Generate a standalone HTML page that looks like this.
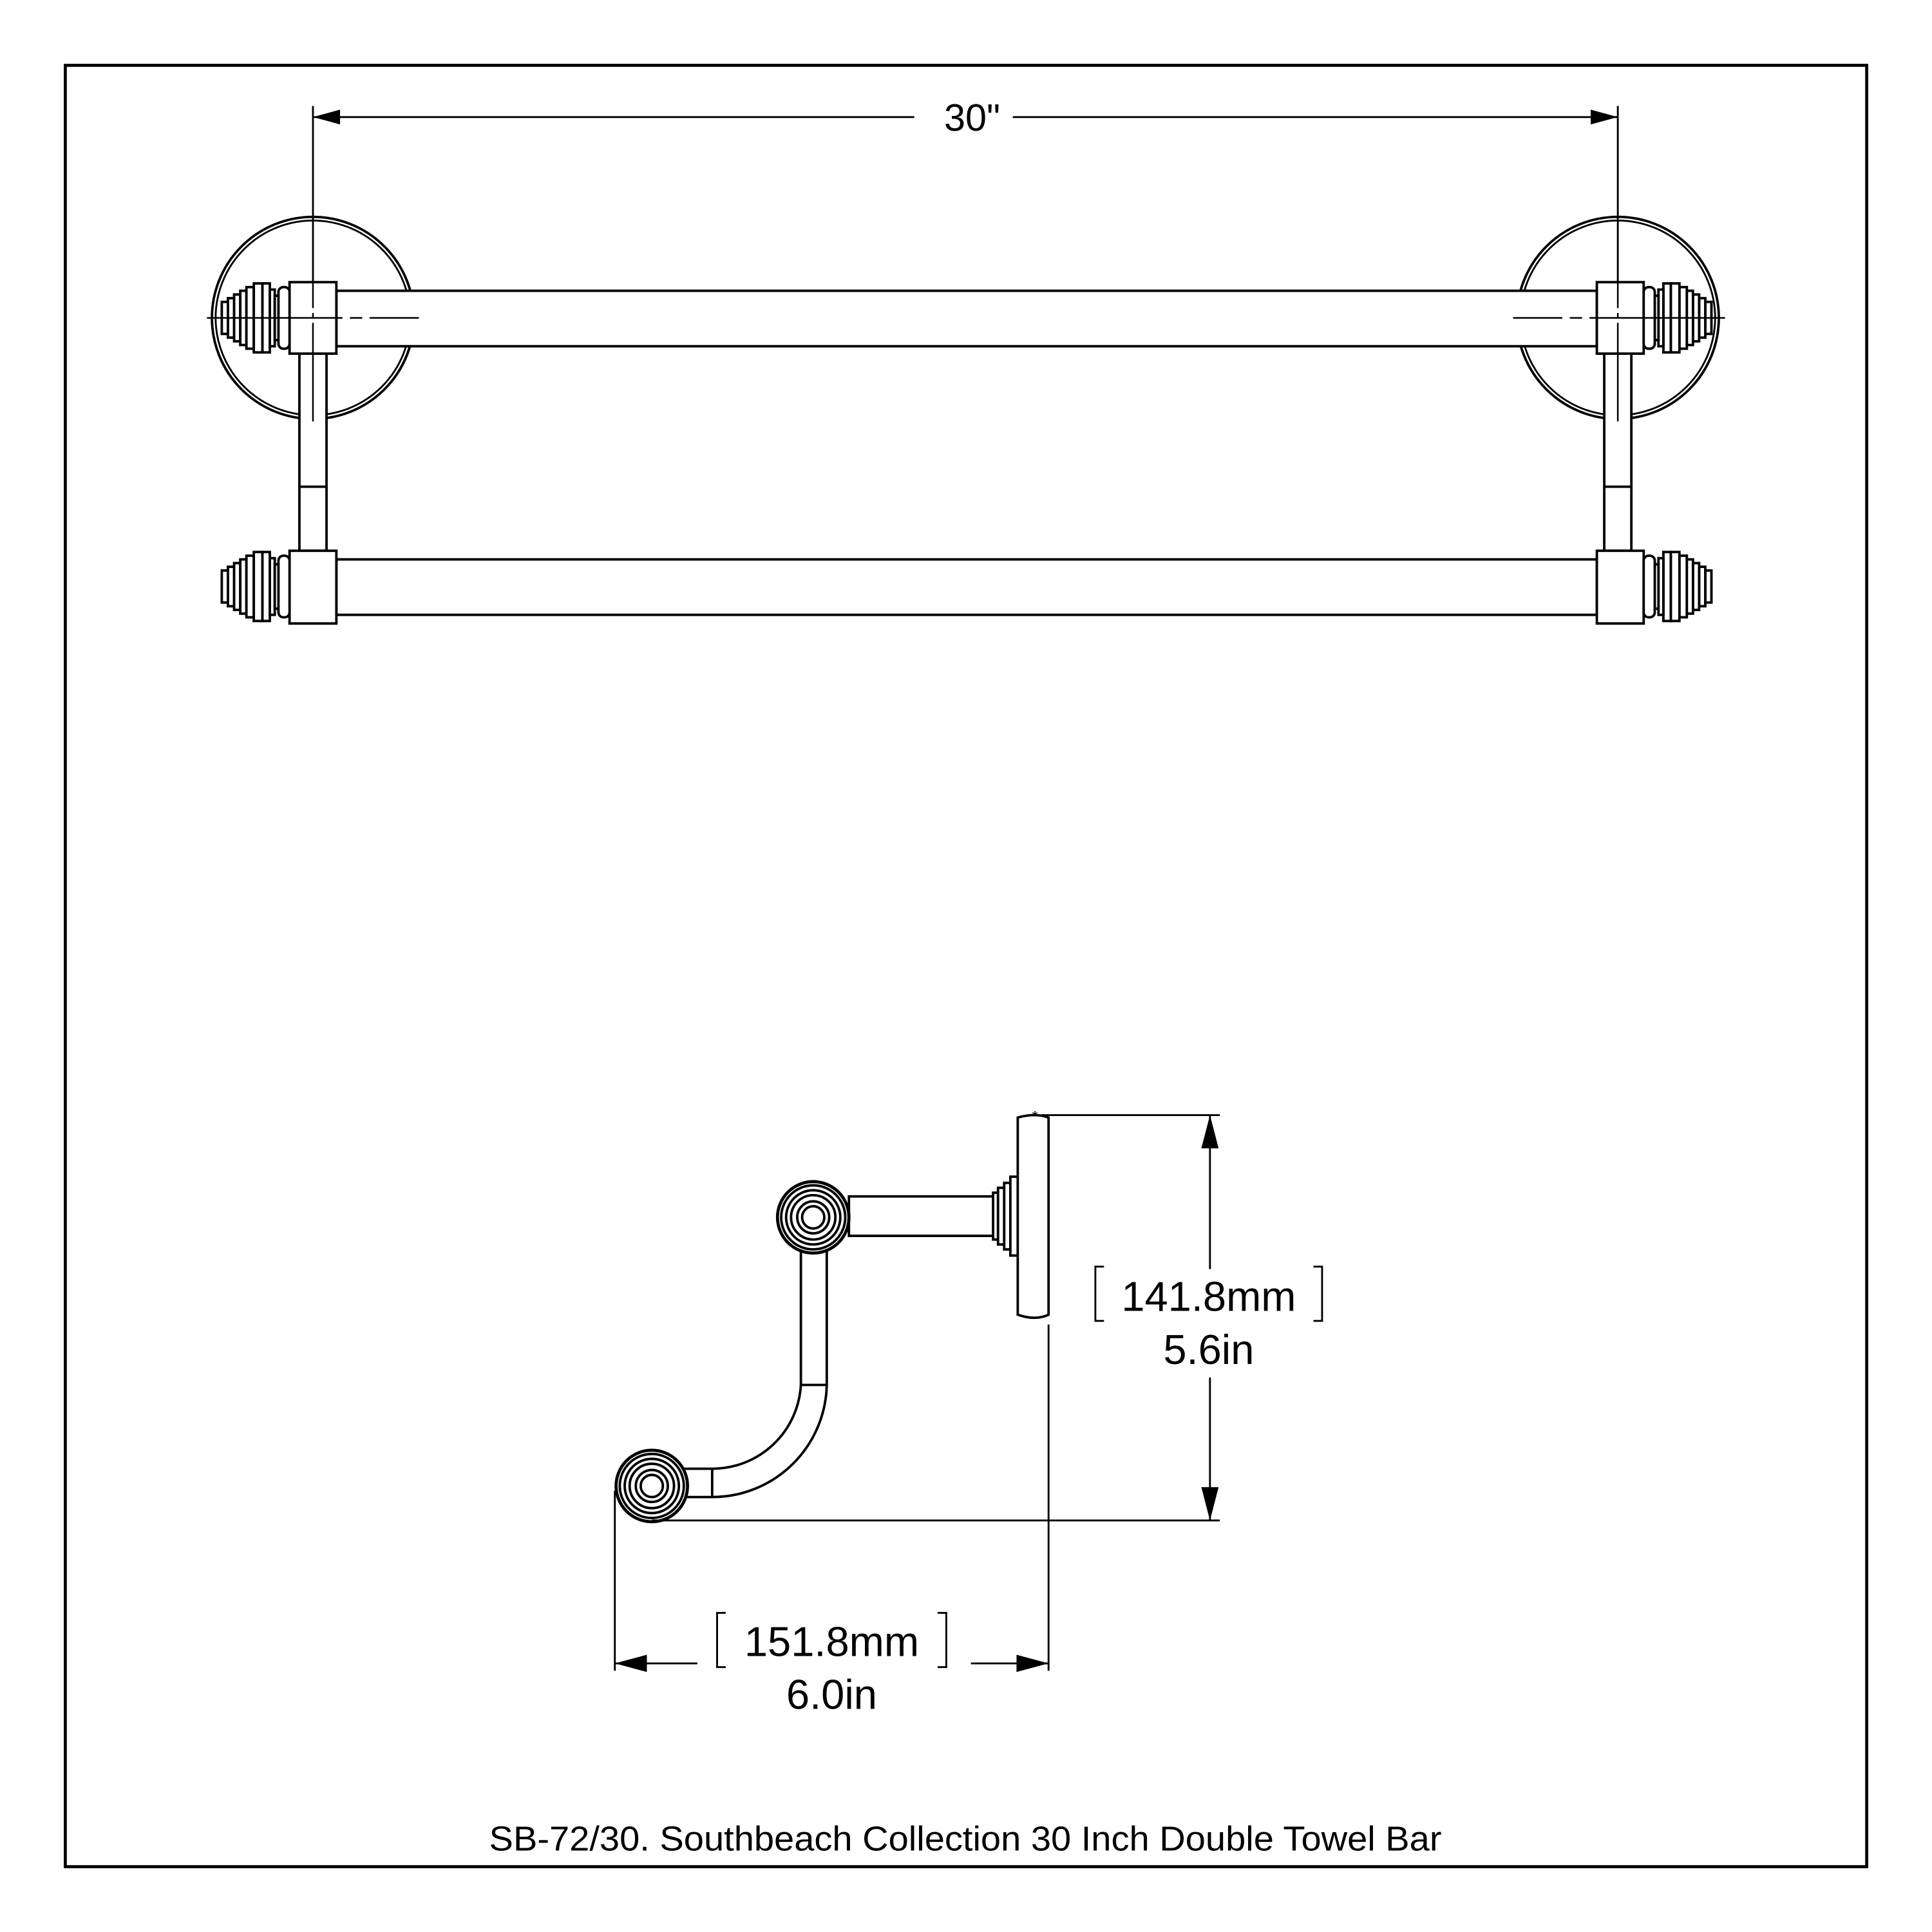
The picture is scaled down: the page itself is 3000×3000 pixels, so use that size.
<!DOCTYPE html>
<html><head><meta charset="utf-8"><style>
html,body{margin:0;padding:0;background:#fff}
svg{display:block}
text{font-family:"Liberation Sans",sans-serif;fill:#000}
</style></head><body>
<svg width="3000" height="3000" viewBox="0 0 1568 1568" xmlns="http://www.w3.org/2000/svg">
<defs>
<g id="fin">
  <rect x="180" y="-13" width="5" height="26"/>
  <rect x="185" y="-16" width="5" height="32"/>
  <rect x="190" y="-19" width="5" height="38"/>
  <rect x="195" y="-22" width="5" height="44"/>
  <rect x="200" y="-25" width="6" height="50"/>
  <rect x="206" y="-28" width="7" height="56"/>
  <rect x="213" y="-28" width="6" height="56"/>
  <rect x="219" y="-23" width="4" height="46"/>
  <rect x="223" y="-18" width="3" height="36"/>
  <rect x="226" y="-25" width="9" height="50" rx="4"/>
</g>
</defs>
<rect x="0" y="0" width="1568" height="1568" fill="#fff"/>
<rect x="53" y="53" width="1462" height="1462" fill="none" stroke="#000" stroke-width="2.5"/>

<g fill="none" stroke="#000" stroke-width="2">
<line x1="254" y1="95" x2="742" y2="95" stroke-width="1.5"/>
<line x1="822" y1="95" x2="1313" y2="95" stroke-width="1.5"/>
<line x1="254" y1="86" x2="254" y2="345" stroke-width="1.5"/>
<line x1="1313" y1="86" x2="1313" y2="345" stroke-width="1.5"/>
<circle cx="254" cy="258" r="82"/><circle cx="254" cy="258" r="79" stroke-width="1.5"/>
<circle cx="1313" cy="258" r="82"/><circle cx="1313" cy="258" r="79" stroke-width="1.5"/>
</g>

<g fill="#fff" stroke="#000" stroke-width="2">
  <rect x="243" y="287" width="22" height="160"/>
  <line x1="243" y1="395" x2="265" y2="395"/>
  <rect x="273" y="236" width="1023" height="45"/>
  <rect x="273" y="454" width="1023" height="45"/>
  <rect x="235" y="229" width="38" height="58"/>
  <rect x="235" y="447" width="38" height="59"/>
  <use href="#fin" transform="translate(0,258)"/>
  <use href="#fin" transform="translate(0,476)"/>
  <rect x="1302" y="287" width="22" height="160"/>
  <line x1="1302" y1="395" x2="1324" y2="395"/>
  <rect x="1296" y="229" width="38" height="58"/>
  <rect x="1296" y="447" width="38" height="59"/>
  <use href="#fin" transform="translate(1569,258) scale(-1,1)"/>
  <use href="#fin" transform="translate(1569,476) scale(-1,1)"/>
</g>
<g stroke="#000" stroke-width="1.3" fill="none">
  <line x1="168" y1="258" x2="340" y2="258" stroke-dasharray="110 6 10 6 40"/>
  <line x1="1228" y1="258" x2="1400" y2="258" stroke-dasharray="40 6 10 6 110"/>
  <line x1="254" y1="230" x2="254" y2="345" stroke-dasharray="20 4 4 4 80"/>
  <line x1="1313" y1="230" x2="1313" y2="345" stroke-dasharray="20 4 4 4 80"/>
</g>
<g fill="#000">
  <polygon points="254,95 276,89 276,101"/>
  <polygon points="1313,95 1291,89 1291,101"/>
</g>
<text x="789" y="106" font-size="31" text-anchor="middle">30"</text>

<g fill="#fff" stroke="#000" stroke-width="2">
  <path d="M650,1012 L650,1124 A72,72 0 0 1 578,1192 L555,1192 L555,1215 L578,1215 A93,93 0 0 0 671,1124 L671,1012 Z"/>
  <line x1="650" y1="1124" x2="671" y2="1124"/>
  <line x1="578" y1="1192" x2="578" y2="1215"/>
  <rect x="689" y="971" width="119" height="32"/>
  <rect x="806" y="968" width="4" height="38"/>
  <rect x="810" y="964" width="5" height="46"/>
  <rect x="815" y="960" width="5" height="54"/>
  <rect x="820" y="955" width="6" height="64"/>
  <path d="M826,907 Q840,903 851,907 L851,1067 Q840,1072 826,1067 Z"/>
  <g>
    <circle cx="660" cy="988" r="29" stroke-width="2.5"/><circle cx="660" cy="988" r="26"/><circle cx="660" cy="988" r="22"/><circle cx="660" cy="988" r="18"/><circle cx="660" cy="988" r="13"/><circle cx="660" cy="988" r="9"/>
  </g>
  <g>
    <circle cx="529" cy="1206" r="29" stroke-width="2.5"/><circle cx="529" cy="1206" r="26"/><circle cx="529" cy="1206" r="22"/><circle cx="529" cy="1206" r="18"/><circle cx="529" cy="1206" r="13"/><circle cx="529" cy="1206" r="9"/>
  </g>
</g>
<text x="840" y="910" font-size="12" text-anchor="middle">*</text>
<g stroke="#000" stroke-width="1.5" fill="none">
  <line x1="845" y1="905" x2="990" y2="905"/>
  <line x1="529" y1="1234" x2="990" y2="1234"/>
  <line x1="982" y1="905" x2="982" y2="1030"/>
  <line x1="982" y1="1118" x2="982" y2="1234"/>
  <line x1="851" y1="1075" x2="851" y2="1356"/>
  <line x1="499" y1="1210" x2="499" y2="1356"/>
  <line x1="499" y1="1350" x2="566" y2="1350"/>
  <line x1="788" y1="1350" x2="851" y2="1350"/>
  <path d="M896,1028 L889,1028 L889,1072 L896,1072"/>
  <path d="M1066,1028 L1073,1028 L1073,1072 L1066,1072"/>
  <path d="M589,1309 L582,1309 L582,1353 L589,1353"/>
  <path d="M761,1309 L768,1309 L768,1353 L761,1353"/>
</g>
<g fill="#000">
  <polygon points="982,905 975,932 989,932"/>
  <polygon points="982,1234 975,1207 989,1207"/>
  <polygon points="499,1350 525,1343 525,1357"/>
  <polygon points="851,1350 825,1343 825,1357"/>
</g>
<text x="981" y="1064" font-size="34" text-anchor="middle">141.8mm</text>
<text x="981" y="1107" font-size="34" text-anchor="middle">5.6in</text>
<text x="675" y="1344" font-size="34" text-anchor="middle">151.8mm</text>
<text x="675" y="1387" font-size="34" text-anchor="middle">6.0in</text>

<text x="397" y="1502" font-size="28" textLength="773" lengthAdjust="spacingAndGlyphs">SB-72/30. Southbeach Collection 30 Inch Double Towel Bar</text>
</svg>
</body></html>
